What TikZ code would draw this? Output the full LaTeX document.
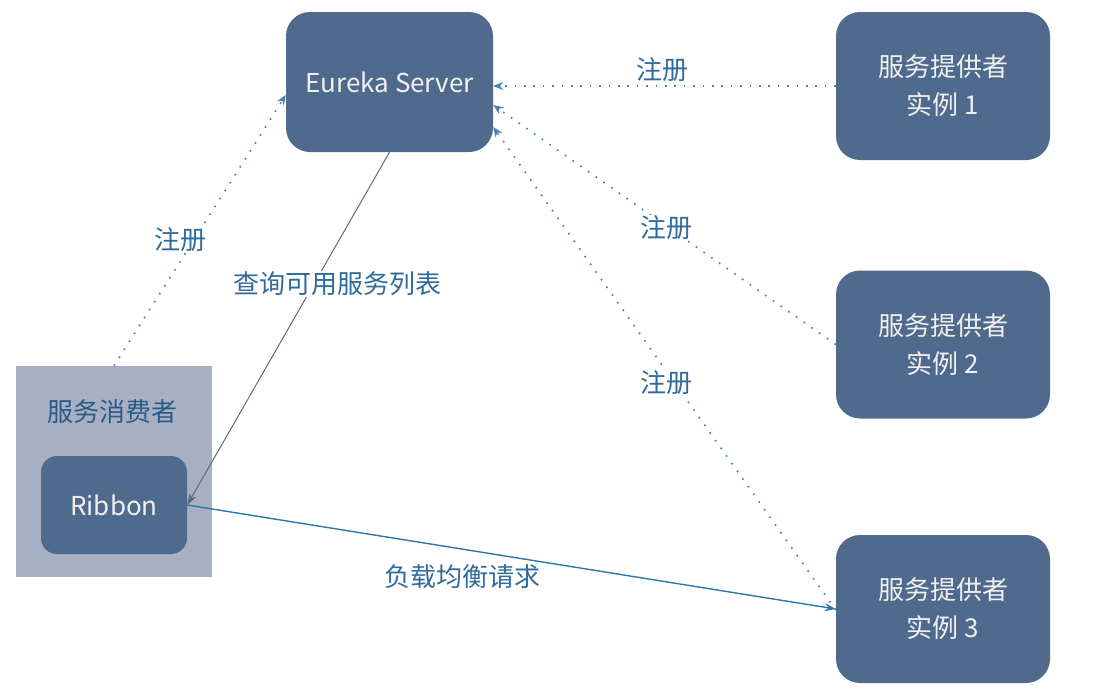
\documentclass[tikz,border=0pt]{standalone}
\usepackage{fontspec}
\setmainfont{Noto Sans CJK SC}
\usetikzlibrary{arrows.meta}
\definecolor{boxblue}{HTML}{506A8E}
\definecolor{consgray}{HTML}{A9AFC2}
\definecolor{labelblue}{HTML}{2F6B9C}
\definecolor{dotblue}{HTML}{4A80AE}
\definecolor{querygray}{HTML}{5A6A80}
\definecolor{loadblue}{HTML}{2F77AA}
\tikzset{
  srvbox/.style={rounded corners=24pt, fill=boxblue, text=white!94!black,
    align=center, font=\fontsize{26}{38}\selectfont},
  lbl/.style={text=labelblue, fill=white, inner sep=1pt,
    font=\fontsize{26}{30}\selectfont},
  regline/.style={dotblue, line width=1.7pt, dash pattern=on 1.6pt off 7.8pt,
    -{Stealth[length=10pt,width=8pt]}}
}
\begin{document}
\begin{tikzpicture}[x=1pt, y=-1pt]
\useasboundingbox (0,0) rectangle (1093,694);

% Eureka server and provider instances
\node[srvbox, minimum width=207pt, minimum height=140pt] (eureka) at (389.5, 82) {Eureka Server};
\foreach \i/\y in {1/86, 2/344.5, 3/609} {
  \node[srvbox, minimum width=214pt, minimum height=148pt] (p\i) at (943, \y)
    {服务提供者\\实例 \i};
}

% consumer with Ribbon inside
\node[fill=consgray, minimum width=196pt, minimum height=211pt] (cons) at (114, 471.5) {};
\node[text=labelblue!85!black, font=\fontsize{26}{30}\selectfont] (conslbl) at (112, 412) {服务消费者};
\node[srvbox, rounded corners=16pt, minimum width=146pt, minimum height=98pt] (ribbon) at (114, 505) {Ribbon};

% register arrows
\draw[regline] (p1.west) -- (eureka.east |- p1.west);
\draw[regline] (p2.west) -- ([yshift=-23pt]eureka.east);
\draw[regline] ([yshift=-1pt]p3.west) -- ([yshift=-45pt]eureka.east);
\draw[regline] (cons.north) -- ([yshift=-13pt]eureka.west);

% query and load balancing
\draw[querygray, line width=1pt, -{Stealth[length=12pt,width=8pt]}] (eureka.south) -- (ribbon.east);
\draw[loadblue, line width=1.4pt, -{Stealth[length=11pt,width=8pt]}] (ribbon.east) -- (p3.west);

% labels
\node[lbl] (reg1) at (662, 70) {注册};
\node[lbl] (reg2) at (666, 228) {注册};
\node[lbl] (reg3) at (666, 383) {注册};
\node[lbl] (reg0) at (180, 240) {注册};
\node[lbl] (query) at (337, 284) {查询可用服务列表};
\node[lbl, fill=none] (load) at (462, 577) {负载均衡请求};
\end{tikzpicture}
\end{document}
